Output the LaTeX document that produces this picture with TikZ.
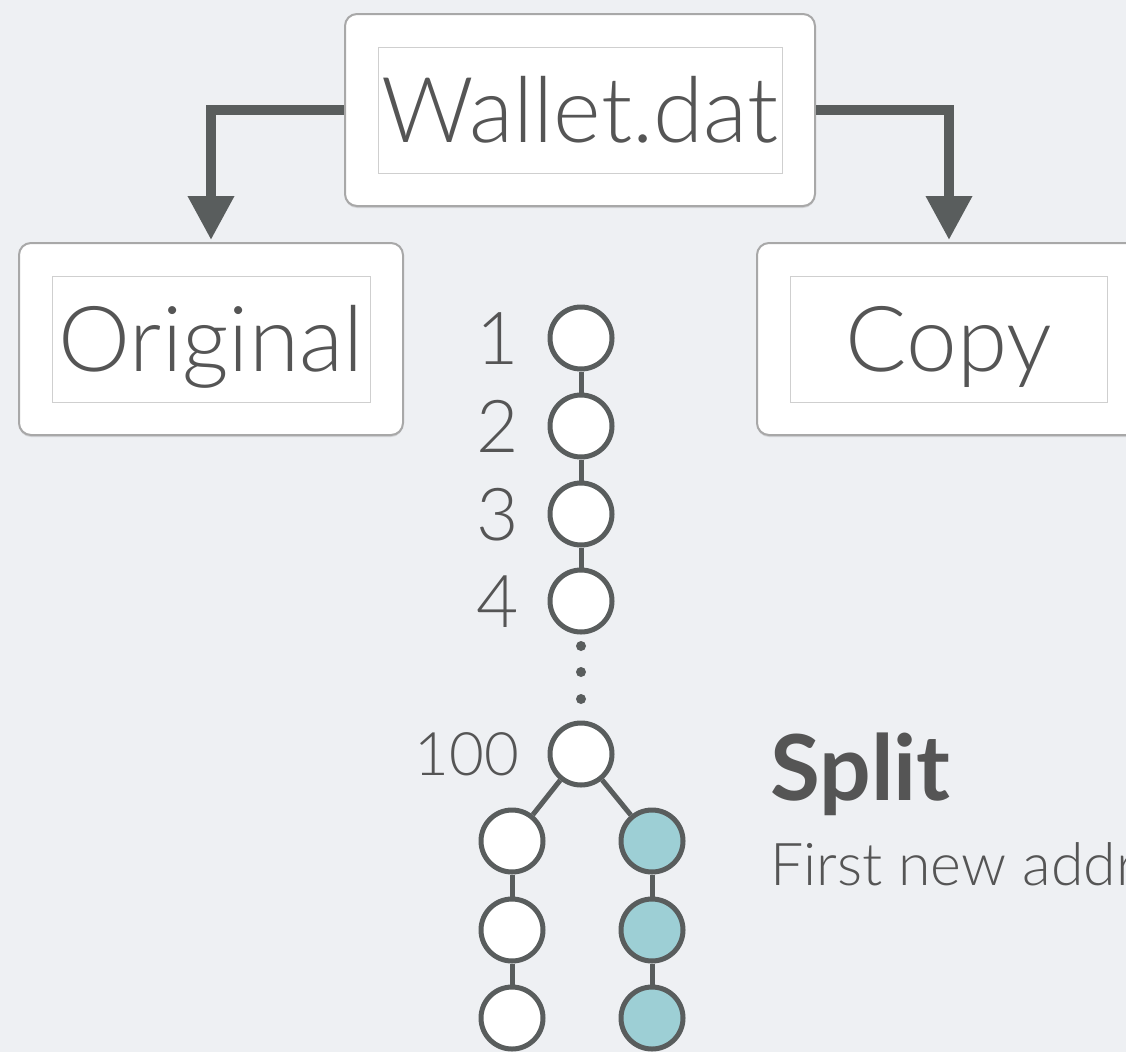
\documentclass[tikz,border=0pt]{standalone}
\usepackage{fontspec}
\setmainfont{Lato Light}[BoldFont=Lato Bold]
\usetikzlibrary{arrows.meta,shadows}

\definecolor{ink}{HTML}{555555}
\definecolor{wire}{HTML}{595D5D}
\definecolor{paper}{HTML}{EEF0F3}
\definecolor{seafoam}{HTML}{9DCFD5}
\definecolor{rim}{HTML}{A8A8A8}
\definecolor{frame}{HTML}{CFCFCF}

\begin{document}
\begin{tikzpicture}[x=1pt,y=-1pt,
    panel/.style={
% The shape:
rectangle, rounded corners=12pt,
% The size:
minimum height=192pt,
% The border:
draw=rim, line width=2pt, fill=white,
drop shadow={opacity=.25, shadow xshift=0pt, shadow yshift=-2pt},
},
    entry/.style={
% The shape:
rectangle,
% The size:
minimum height=126pt, inner sep=0pt,
text height=65pt, text depth=0pt,
% The border:
draw=frame, line width=1pt, fill=white,
% The text:
text=ink, font=\fontsize{91pt}{91pt}\selectfont,
},
    addr/.style={
% The shape:
circle,
% The size:
minimum size=62pt, inner sep=0pt,
% The border:
draw=wire, line width=5pt, fill=white,
},
    fresh/.style={addr, fill=seafoam},
    dot/.style={circle, fill=wire, minimum size=10pt, inner sep=0pt},
    tag/.style={
inner sep=0pt, label distance=28pt,
text height=52pt, text depth=0pt,
text=ink, font=\fontsize{73pt}{73pt}\selectfont,
},
    link/.style={draw=wire, line width=5pt},
    feed/.style={draw=wire, line width=10pt, line join=miter,
-{Triangle[width=44pt,length=44pt]}, shorten >=2pt},
]
  \useasboundingbox[fill=paper] (0,0) rectangle (1126,1052);

  % the wallet file and its two copies
  \node[panel, minimum width=470pt]     (walletbox) at (580,110) {};
  \node[entry, minimum width=404pt]     (wallet) at (580,110) {Wallet.dat};
  \node[panel, minimum width=384pt]     (origbox) at (211,339) {};
  \node[entry, minimum width=318pt]     (orig) at (211,339) {Original};
  \node[panel, minimum width=384pt]     (copybox) at (949,339) {};
  \node[entry, minimum width=317pt]     (copy) at (949,339) {Copy};

  \draw[feed] (walletbox.west) -| (origbox.north);
  \draw[feed] (walletbox.east) -| (copybox.north);

  % key pool, one address after another
  \node[addr, label={[tag]left:1}]      (a1) at (581,338) {};
  \node[addr, label={[tag]left:2}]      (a2) at (581,426) {};
  \node[addr, label={[tag]left:3}]      (a3) at (581,514) {};
  \node[addr, label={[tag]left:4}]      (a4) at (581,601) {};
  \node[dot]                            (d1) at (581,646) {};
  \node[dot]                            (d2) at (581,672) {};
  \node[dot]                            (d3) at (581,699) {};
  \node[addr, label={[tag, text height=43pt,
    font=\fontsize{60pt}{60pt}\selectfont]left:100}]
                                        (a100) at (581,754) {};

  % after the split
  \node[addr]                           (l1) at (512,841) {};
  \node[addr]                           (l2) at (512,930) {};
  \node[addr]                           (l3) at (512,1018) {};
  \node[fresh]                          (r1) at (652,841) {};
  \node[fresh]                          (r2) at (652,930) {};
  \node[fresh]                          (r3) at (652,1018) {};

  \draw[link] (a1) -- (a2);
  \draw[link] (a2) -- (a3);
  \draw[link] (a3) -- (a4);
  \draw[link] (a100) -- (l1);
  \draw[link] (a100) -- (r1);
  \draw[link] (l1) -- (l2);
  \draw[link] (l2) -- (l3);
  \draw[link] (r1) -- (r2);
  \draw[link] (r2) -- (r3);

  \node[anchor=base west, inner sep=0pt, text=ink,
    font=\bfseries\fontsize{91pt}{91pt}\selectfont]
                                        (split) at (770,800) {Split};
  \node[anchor=base west, inner sep=0pt, text=ink,
    font=\fontsize{59pt}{59pt}\selectfont]
                                        (firstnew) at (770,885) {First new addr};

\end{tikzpicture}
\end{document}
